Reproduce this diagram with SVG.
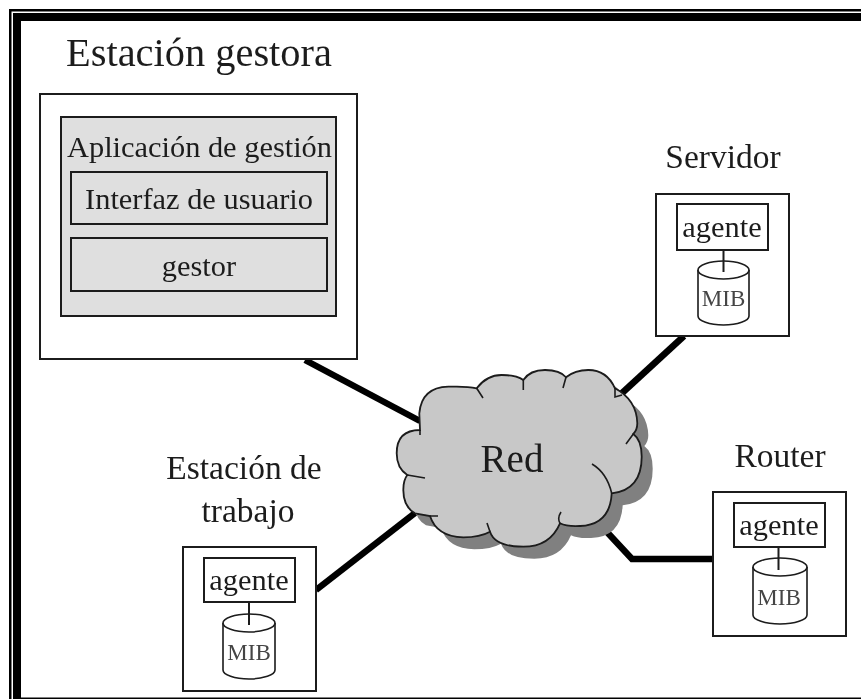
<svg xmlns="http://www.w3.org/2000/svg" width="861" height="699" viewBox="0 0 861 699">
<defs>
<filter id="soft" x="0" y="0" width="100%" height="100%" filterUnits="userSpaceOnUse" primitiveUnits="userSpaceOnUse"><feGaussianBlur stdDeviation="0.5"/></filter>
<path id="cloud" d="M419.300,413.300 Q421.700,387.300 448.300,386.700 Q466.700,386 476.700,388.300 Q486.700,375 501.700,375 Q516.700,375 523.300,380 Q530,370 545,370 Q560,370 566,377.300 Q575,370 588.300,370 Q606.700,370 615,388.300 Q636.700,400 637.300,423.300 Q637.300,430 633.300,434 Q641.700,440 641.700,456.700 Q641.700,490 611.700,493.300 Q610,525 580,526 Q566.700,526.700 560,523.300 Q550,546.700 523.300,546.700 Q495,546.700 490,531.700 Q480,537.300 463.300,537.300 Q436.700,536.700 430,516 L415,513.300 Q403.300,506.700 403.300,490 Q403.300,480 407.300,475 Q396.700,468.300 396.700,453.300 Q396.700,430 420,430 Z"/>
</defs>
<style>
text{font-family:"Liberation Serif","Times New Roman",serif;fill:#1c1c1c;text-anchor:middle}
.box{fill:#fff;stroke:#1a1a1a;stroke-width:2}
.grey{fill:#dfdfdf;stroke:#1a1a1a;stroke-width:2}
.in{fill:none;stroke:#1a1a1a;stroke-width:2}
.cyl{fill:#fff;stroke:#1a1a1a;stroke-width:1.6}
.t33{font-size:33.5px}.t30{font-size:30.4px}.t40{font-size:40.4px}.mib{font-size:23px;fill:#444}
.wire{fill:none;stroke:#000;stroke-width:6.5}
.cl{fill:none;stroke:#1a1a1a;stroke-width:1.6}
</style>
<rect width="861" height="699" fill="#fff"/>
<g id="frame" fill="#000">
<rect x="9" y="9" width="852" height="2.5"/>
<rect x="9" y="9" width="2.5" height="690"/>
<rect x="13" y="13" width="848" height="8"/>
<rect x="13" y="13" width="8" height="686"/>
<rect x="21" y="697.5" width="840" height="1.5"/>
</g>
<g filter="url(#soft)">
<g id="connectors">
<path class="wire" d="M305,360 L420,421"/>
<path class="wire" d="M684,336 L621,394"/>
<path class="wire" d="M316,590 L415,513"/>
<path class="wire" d="M606,531 L632,559 H714"/>
</g>
<g id="estacion-gestora">
<text class="t40" x="199" y="66">Estación gestora</text>
<rect class="box" x="40" y="94" width="317" height="265"/>
<rect class="grey" x="61" y="117" width="275" height="199"/>
<text class="t30" x="199.500" y="157">Aplicación de gestión</text>
<rect class="grey" x="71" y="172" width="256" height="52"/>
<text class="t30" x="199" y="209">Interfaz de usuario</text>
<rect class="grey" x="71" y="238" width="256" height="53"/>
<text class="t30" x="199" y="276">gestor</text>
</g>
<g id="servidor">
<text class="t33" x="723" y="168">Servidor</text>
<rect class="box" x="656" y="194" width="133" height="142"/>
<rect class="in" x="677" y="204" width="91" height="46"/>
<text class="t30" x="722" y="237">agente</text>
<path class="cyl" d="M698,270 V316 A25.500,9 0 0 0 749,316 V270"/>
<ellipse class="cyl" cx="723.500" cy="270" rx="25.500" ry="9"/>
<path class="in" d="M723.500,250 V272"/>
<text class="mib" x="723.500" y="306">MIB</text>
</g>
<g id="estacion-trabajo">
<text class="t33" x="244" y="479">Estación de</text>
<text class="t33" x="248" y="522">trabajo</text>
<rect class="box" x="183" y="547" width="133" height="144"/>
<rect class="in" x="204" y="558" width="91" height="44"/>
<text class="t30" x="249" y="590">agente</text>
<path class="cyl" d="M223,623 V670 A26,9 0 0 0 275,670 V623"/>
<ellipse class="cyl" cx="249" cy="623" rx="26" ry="9"/>
<path class="in" d="M249,602 V625"/>
<text class="mib" x="249" y="660">MIB</text>
</g>
<g id="router">
<text class="t33" x="780" y="467">Router</text>
<rect class="box" x="713" y="492" width="133" height="144"/>
<rect class="in" x="734" y="503" width="91" height="44"/>
<text class="t30" x="779" y="535">agente</text>
<path class="cyl" d="M753,567 V615 A27,9 0 0 0 807,615 V567"/>
<ellipse class="cyl" cx="780" cy="567" rx="27" ry="9"/>
<path class="in" d="M778.500,547 V570"/>
<text class="mib" x="779" y="605">MIB</text>
</g>
<g id="red">
<use href="#cloud" transform="translate(11,12)" fill="#808080"/>
<use href="#cloud" fill="#c8c8c8" stroke="#1a1a1a" stroke-width="1.800"/>
<path class="cl" d="M476.700,388.300 L483,398 M523.300,380 V390 M566,377.300 L563,388 M615,388.300 V397 L622,395 M633.300,434 L626,444 M592,464 Q607,473 611.700,493.300 M560,523.300 Q557,518 561,512 M490,531.700 L487,523 M430,516 H438 M407.300,475 L425,478 M420,430 V435"/>
<text x="512" y="472" font-size="39px">Red</text>
</g>
</g>
</svg>
